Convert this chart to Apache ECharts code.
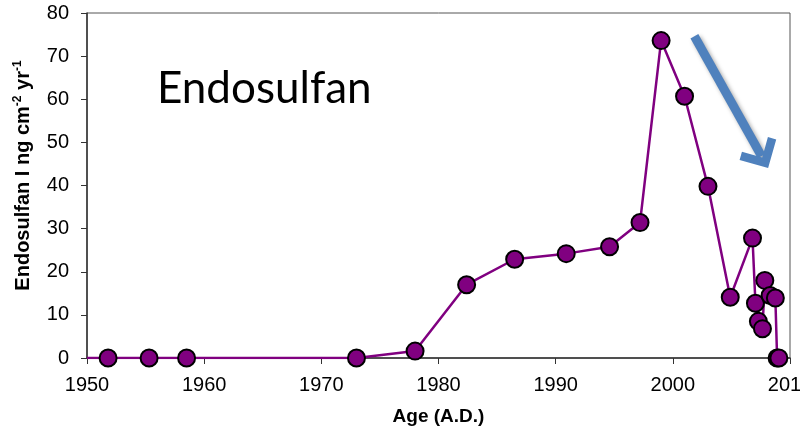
<!DOCTYPE html>
<html>
<head>
<meta charset="utf-8">
<script src="https://cdn.jsdelivr.net/npm/echarts@6/dist/echarts.min.js"></script>
<style>
  html, body { margin: 0; padding: 0; background: #fff; }
  #main { width: 800px; height: 430px; }
</style>
</head>
<body>
<div id="main"></div>
<script>
// values (year A.D., flux)
var years = [1950, 1951.8, 1955.3, 1958.5, 1973.0, 1978.0, 1982.4, 1986.5, 1990.9, 1994.6,
    1997.2, 1999.0, 2001.0, 2003.0, 2004.9, 2006.8, 2007.05, 2007.3, 2007.65, 2007.85,
    2008.3, 2008.75, 2008.9, 2009.05];
var flux = [0, 0, 0, 0, 0, 1.6, 17.0, 22.9, 24.2, 25.8,
    31.4, 73.6, 60.7, 39.8, 14.1, 27.8, 12.7, 8.5, 6.8, 18.0,
    14.5, 13.9, 0, 0];

// trend arrow drawn in data coords
var arrowStart = [2001.84, 74.6];
var arrowEnd = [2007.57, 46.8];

var xTicks = [1950, 2010, 10];
var yTicks = [0, 80, 10];

function DrawChart() {
    var myChart = echarts.init(document.getElementById('main'));

    var pts = [];
    for (var i = 0; i < years.length; i++) {
        var p = {value: [years[i], flux[i]]};
        // line starts at the axis, no marker there
        if (i === 0) p.symbol = 'none';
        pts.push(p);
    }

    var chevron = 'path://M22,0 L44,22 L37.6,28.4 L22,12.7 L6.4,28.4 L0,22 Z';

    var option = {
        animation: false,
        title: {
            text: 'Endosulfan',
            left: 152,
            top: 62,
            textStyle: {
                fontFamily: 'Lato',
                fontSize: 44,
                fontWeight: 'normal',
                color: '#000'
            }
        },
        grid: {
            left: 87,
            right: 10,
            top: 13,
            bottom: 72,
            outerBoundsMode: 'none',
            containLabel: false,
            show: true,
            borderColor: '#555',
            borderWidth: 1
        },
        xAxis: {
            type: 'value',
            min: xTicks[0],
            max: xTicks[1],
            interval: xTicks[2],
            name: 'Age (A.D.)',
            nameLocation: 'middle',
            nameGap: 49,
            nameTextStyle: {
                fontFamily: 'Liberation Sans',
                fontSize: 19,
                fontWeight: 'bold',
                color: '#000'
            },
            axisLine: {lineStyle: {color: '#333', width: 1.5}},
            axisTick: {length: 6, lineStyle: {color: '#333'}},
            axisLabel: {
                fontFamily: 'Liberation Sans',
                fontSize: 20,
                color: '#000',
                margin: 17,
                formatter: function (v) { return String(v); }
            },
            splitLine: {show: false}
        },
        yAxis: {
            type: 'value',
            min: yTicks[0],
            max: yTicks[1],
            interval: yTicks[2],
            name: '{a|Endosulfan I ng cm}{s|-2}{a| yr}{s|-1}',
            nameLocation: 'middle',
            nameGap: 53,
            nameTextStyle: {
                padding: [0, 0, 0, 20],
                rich: {
                    a: {
                        fontFamily: 'Liberation Sans',
                        fontSize: 20,
                        fontWeight: 'bold',
                        color: '#000',
                        lineHeight: 22
                    },
                    s: {
                        fontFamily: 'Liberation Sans',
                        fontSize: 12,
                        fontWeight: 'bold',
                        color: '#000',
                        lineHeight: 22,
                        verticalAlign: 'top',
                        padding: [0, 0, 9, 0]
                    }
                }
            },
            axisLine: {show: true, lineStyle: {color: '#333', width: 1.5}},
            axisTick: {show: true, length: 6, lineStyle: {color: '#333'}},
            axisLabel: {
                fontFamily: 'Liberation Sans',
                fontSize: 20,
                color: '#000',
                margin: 18
            },
            splitLine: {show: false}
        },
        series: [
            {
                name: 'Endosulfan I',
                type: 'line',
                data: pts,
                symbol: 'circle',
                symbolSize: 17,
                lineStyle: {color: '#800080', width: 2.5},
                itemStyle: {color: '#800080', borderColor: '#000', borderWidth: 2},
                markLine: {
                    silent: true,
                    symbol: ['none', chevron],
                    symbolSize: [42, 27],
                    label: {show: false},
                    lineStyle: {
                        color: '#4F81BD',
                        width: 9,
                        type: 'solid',
                        shadowBlur: 4,
                        shadowColor: 'rgba(0,0,0,0.35)',
                        shadowOffsetX: 2,
                        shadowOffsetY: 2
                    },
                    itemStyle: {color: '#4F81BD'},
                    data: [[{coord: arrowStart}, {coord: arrowEnd}]]
                },
                z: 3
            }
        ]
    };

    myChart.setOption(option);
}

DrawChart();
</script>
</body>
</html>
